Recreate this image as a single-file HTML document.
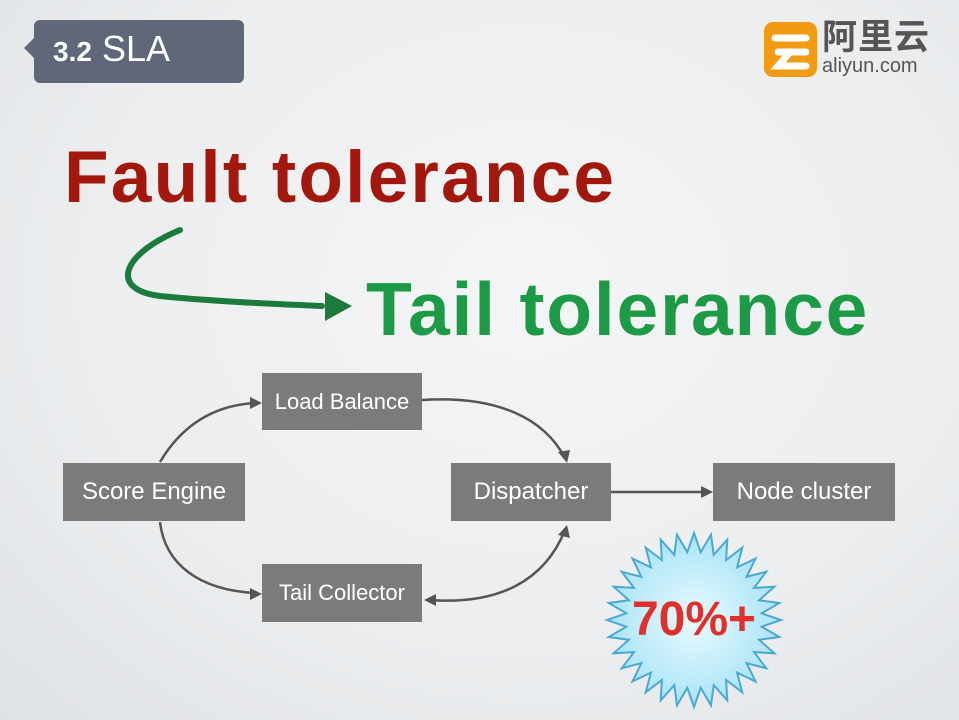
<!DOCTYPE html>
<html><head><meta charset="utf-8"><style>
html,body{margin:0;padding:0}
body{width:959px;height:720px;overflow:hidden;background:radial-gradient(ellipse at 55% 40%,#f4f5f6 0%,#ebedef 60%,#dfe2e5 100%);font-family:"Liberation Sans",sans-serif;position:relative}
.abs{position:absolute}
.box{position:absolute;background:#7b7b7b;color:#fff;font-size:23px;display:flex;align-items:center;justify-content:center;white-space:nowrap}
</style></head><body>
<svg class="abs" style="left:0;top:0" width="959" height="720">
<path d="M40 20 H238 a6 6 0 0 1 6 6 V77 a6 6 0 0 1 -6 6 H40 a6 6 0 0 1 -6 -6 V58 L24 48 L34 38 V26 a6 6 0 0 1 6 -6Z" fill="#5f6778"/>
<rect x="764" y="22" width="53" height="55" rx="9" fill="#f29a12"/>
<g stroke="#fff" stroke-width="7" stroke-linecap="round" fill="none"><path d="M775 38 H806"/><path d="M778 52 H806 M790 52 L778 66 H806"/></g>
<path d="M180 230 C120 255,110 290,160 296 C220 302,280 304,322 306" stroke="#1b7a3c" stroke-width="6" fill="none" stroke-linecap="round"/>
<polygon points="325,292 352,306 325,321" fill="#1b7a3c"/>
<g stroke="#555" stroke-width="2.5" fill="none">
<path d="M160 462 C185 420,220 405,255 403"/>
<path d="M422 400 C500 395,545 420,565 458"/>
<path d="M160 522 C165 565,200 590,255 593"/>
<path d="M430 600 C500 605,545 580,565 530"/>
<path d="M611 492 H705"/>
</g>
<g fill="#555">
<polygon points="262,403 250,397 250,409"/>
<polygon points="567,463 558,452 570,450"/>
<polygon points="262,594 250,588 250,600"/>
<polygon points="424,600 436,594 436,606"/>
<polygon points="567,525 570,538 558,535"/>
<polygon points="713,492 701,486 701,498"/>
</g>
<defs><radialGradient id="sg" cx="50%" cy="50%" r="50%"><stop offset="0" stop-color="#eafaff"/><stop offset="1" stop-color="#a9e4f7"/></radialGradient></defs>
<polygon id="star" fill="url(#sg)" stroke="#4aa9d2" stroke-width="2"/>
</svg>
<script>
(function(){var p=[],n=32,cx=694,cy=620,R=87,r=68;for(var i=0;i<2*n;i++){var a=Math.PI*i/n-Math.PI/2,rr=i%2?r:R;p.push((cx+rr*Math.cos(a)).toFixed(1)+","+(cy+rr*Math.sin(a)).toFixed(1));}document.getElementById("star").setAttribute("points",p.join(" "));})();
</script>
<div class="abs" style="left:53px;top:29px;color:#fff;font-size:36px;line-height:40px"><span style="font-size:28px;font-weight:bold">3.2</span> SLA</div>
<div class="abs" style="left:822px;top:18px;font-family:'Liberation Sans','Noto Sans CJK SC',sans-serif;font-size:35px;font-weight:bold;color:#555;letter-spacing:1px;line-height:40px">阿里云</div>
<div class="abs" style="left:822px;top:55px;font-size:20px;color:#555;line-height:22px">aliyun.com</div>
<div class="abs" style="left:64px;top:136px;font-size:73px;font-weight:bold;color:#a3180c;line-height:84px;letter-spacing:2.2px">Fault tolerance</div>
<div class="abs" style="left:366px;top:266px;font-size:75px;font-weight:bold;color:#1d9a45;line-height:86px;letter-spacing:1.8px">Tail tolerance</div>
<div class="box" style="left:262px;top:373px;width:160px;height:57px;font-size:22px">Load Balance</div>
<div class="box" style="left:63px;top:463px;width:182px;height:58px;font-size:24px">Score Engine</div>
<div class="box" style="left:451px;top:463px;width:160px;height:58px;font-size:24px">Dispatcher</div>
<div class="box" style="left:713px;top:463px;width:182px;height:58px;font-size:24px">Node cluster</div>
<div class="box" style="left:262px;top:564px;width:160px;height:58px;font-size:22px">Tail Collector</div>
<div class="abs" style="left:604px;top:593px;width:180px;text-align:center;font-size:48px;font-weight:bold;color:#e0302c;line-height:54px">70%+</div>
</body></html>
